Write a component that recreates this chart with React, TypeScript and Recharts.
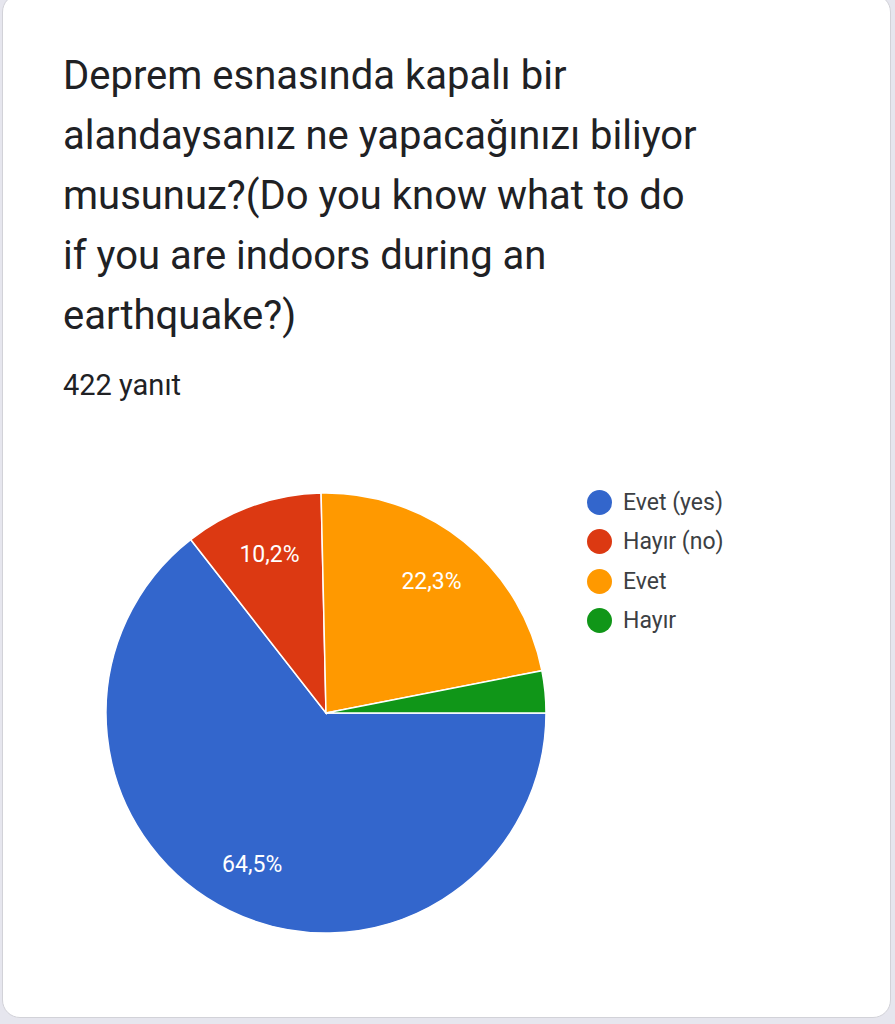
import React from 'react';
import { PieChart, Pie, Cell, Legend } from 'recharts';

const categories = ['Evet (yes)', 'Hayır (no)', 'Evet', 'Hayır'];
const counts = [272, 43, 94, 13];
const colors = ['#3366CC', '#DC3912', '#FF9900', '#109618'];
const titleLines = [
  'Deprem esnasında kapalı bir',
  'alandaysanız ne yapacağınızı biliyor',
  'musunuz?(Do you know what to do',
  'if you are indoors during an',
  'earthquake?)',
];
const responseText = '422 yanıt';

const data = categories.map((name, i) => ({ name, value: counts[i], color: colors[i] }));

const RAD = Math.PI / 180;
const FONT = 'Roboto, "Noto Sans", Arial, sans-serif';

const renderLabel = (props: any) => {
  const { cx, cy, midAngle, outerRadius, percent } = props;
  if (percent < 0.05) return null;
  const r = outerRadius * 0.765;
  const x = cx + r * Math.cos(-midAngle * RAD);
  const y = cy + r * Math.sin(-midAngle * RAD);
  const txt = (percent * 100).toFixed(1).replace('.', ',') + '%';
  return (
    <text x={x} y={y} fill="#ffffff" textAnchor="middle" dominantBaseline="central"
      style={{ fontFamily: FONT, fontSize: 23 }}>
      {txt}
    </text>
  );
};

const LegendContent = () => {
  return (
    <div style={{ position: 'relative', fontFamily: FONT }}>
      {data.map((p, i) => (
        <div key={i} style={{ display: 'flex', alignItems: 'center', height: 39.3 }}>
          <svg width={25} height={25} style={{ marginRight: 11 }}>
            <circle cx={12.5} cy={12.5} r={12.5} fill={p.color} />
          </svg>
          <span style={{ fontSize: 23, color: '#3c4043' }}>{p.name}</span>
        </div>
      ))}
    </div>
  );
};

export default function App() {
  return (
    <div style={{ position: 'absolute', left: 0, top: 0, width: 895, height: 1024, background: '#e6e6ee', overflow: 'hidden' }}>
      <div style={{ position: 'absolute', left: 2, top: -6, width: 889, height: 1024, background: '#ffffff', border: '1px solid #d2d2d8', borderRadius: 18, boxSizing: 'border-box' }} />
      <div style={{ position: 'absolute', left: 63, top: 46, fontFamily: FONT, fontSize: 40, lineHeight: '60px', color: '#202124', whiteSpace: 'nowrap' }}>
        {titleLines.map((l, i) => (
          <div key={i}>{l}</div>
        ))}
      </div>
      <div style={{ position: 'absolute', left: 63, top: 371, fontFamily: FONT, fontSize: 29, lineHeight: '29px', color: '#202124', whiteSpace: 'nowrap' }}>
        {responseText}
      </div>
      <div style={{ position: 'absolute', left: 0, top: 463 }}>
        <PieChart width={895} height={500} margin={{ top: 0, right: 0, bottom: 0, left: 0 }}>
          <Pie
            data={data}
            dataKey="value"
            nameKey="name"
            cx={326}
            cy={250}
            outerRadius={220}
            startAngle={0}
            endAngle={-360}
            stroke="#ffffff"
            strokeWidth={1.5}
            label={renderLabel}
            labelLine={false}
            isAnimationActive={false}
          >
            {data.map((d, i) => (
              <Cell key={i} fill={d.color} />
            ))}
          </Pie>
          <Legend
            layout="vertical"
            align="right"
            verticalAlign="top"
            content={<LegendContent />}
            wrapperStyle={{ left: 587, top: 20, width: 250, right: 'auto' }}
          />
        </PieChart>
      </div>
    </div>
  );
}
